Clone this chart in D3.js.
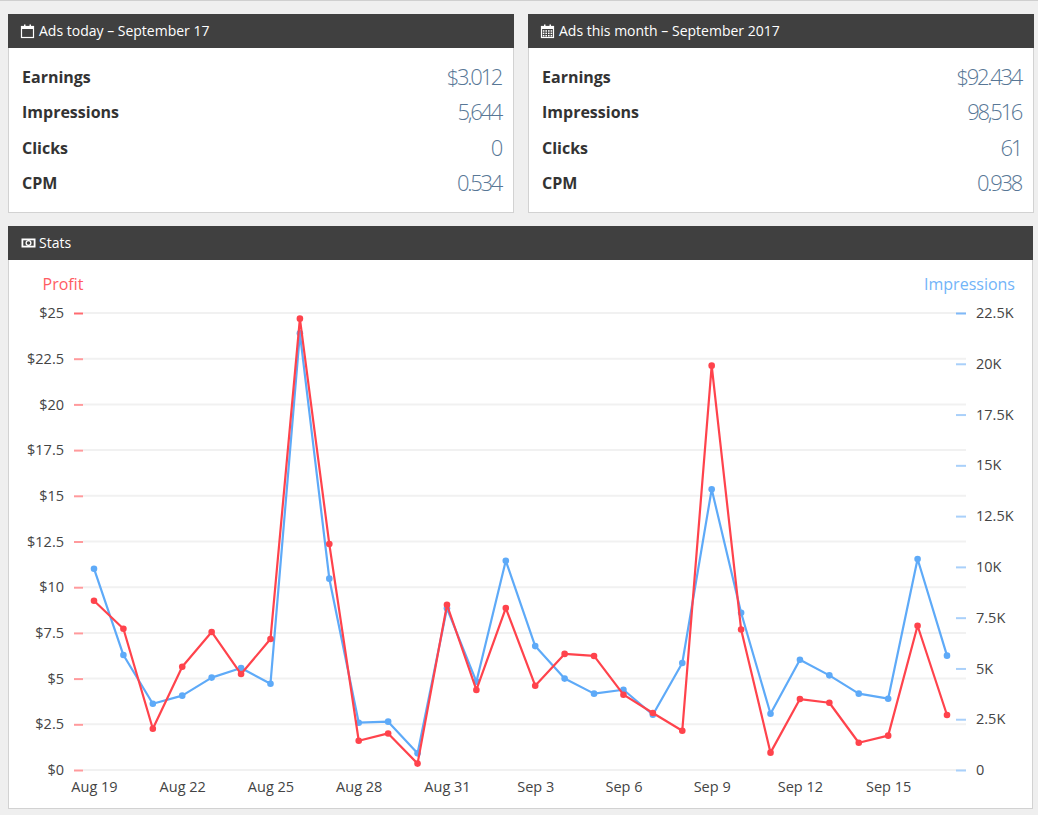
<!DOCTYPE html>
<html>
<head>
<meta charset="utf-8">
<script src="https://cdn.jsdelivr.net/npm/d3@7"></script>
<style>
  html, body { margin: 0; padding: 0; background: #efefef; }
  svg { display: block; font-family: "Open Sans", sans-serif; }
</style>
</head>
<body>
<div id="page"></div>
<script>
// days on the x axis
const days = ["Aug 19","Aug 20","Aug 21","Aug 22","Aug 23","Aug 24","Aug 25","Aug 26","Aug 27","Aug 28",
  "Aug 29","Aug 30","Aug 31","Sep 1","Sep 2","Sep 3","Sep 4","Sep 5","Sep 6","Sep 7",
  "Sep 8","Sep 9","Sep 10","Sep 11","Sep 12","Sep 13","Sep 14","Sep 15","Sep 16","Sep 17"];

// profit in dollars per day
const profit = [9.26, 7.73, 2.26, 5.65, 7.55, 5.25, 7.17, 24.69, 12.36, 1.60,
  2.00, 0.35, 9.04, 4.38, 8.86, 4.61, 6.35, 6.24, 4.12, 3.12,
  2.15, 22.12, 7.69, 0.95, 3.88, 3.68, 1.49, 1.88, 7.89, 3.01];

// impressions per day
const impressions = [9910, 5660, 3260, 3660, 4550, 5020, 4250, 21500, 9420, 2330,
  2380, 820, 7960, 4350, 10300, 6100, 4500, 3760, 3950, 2720,
  5270, 13820, 7740, 2770, 5430, 4660, 3760, 3510, 10390, 5630];

const profitTicks = [0, 2.5, 5, 7.5, 10, 12.5, 15, 17.5, 20, 22.5, 25];
const impTicks = [0, 2500, 5000, 7500, 10000, 12500, 15000, 17500, 20000, 22500];

// summary panels
const todayTitle = "Ads today \u2013 September 17";
const monthTitle = "Ads this month \u2013 September 2017";
const rowLabels = ["Earnings", "Impressions", "Clicks", "CPM"];
const todayValues = ["$3.012", "5,644", "0", "0.534"];
const monthValues = ["$92.434", "98,516", "61", "0.938"];

const W = 1038, H = 815;
const red = "#ff434c", blue = "#5eaaf8";

const svg = d3.select("#page").append("svg")
  .attr("width", W).attr("height", H);

svg.append("line")
  .attr("x1", 0).attr("x2", W).attr("y1", 0.5).attr("y2", 0.5)
  .attr("stroke", "#cfcfcf");

function panel(x, y, w, h, title, icon) {
  const g = svg.append("g").attr("transform", `translate(${x},${y})`);
  g.append("rect")
    .attr("x", 0.5).attr("y", 0.5).attr("width", w - 1).attr("height", h - 1)
    .attr("fill", "white").attr("stroke", "#d2d2d2");
  g.append("rect")
    .attr("width", w).attr("height", 34).attr("fill", "#404040");
  g.append("text")
    .attr("x", 31).attr("y", 22)
    .text(title)
    .style("fill", "white")
    .style("font-size", "14px");
  icon(g.append("g").attr("transform", "translate(13,10)"));
  return g;
}

function calendarOutline(g) {
  g.append("rect").attr("x", 0.5).attr("y", 2.5).attr("width", 12).attr("height", 11)
    .attr("fill", "none").attr("stroke", "white").attr("stroke-width", 1.2);
  g.append("rect").attr("x", 0.5).attr("y", 2.5).attr("width", 12).attr("height", 2.5).attr("fill", "white");
  g.append("rect").attr("x", 3).attr("y", 0.5).attr("width", 1.5).attr("height", 3).attr("fill", "white");
  g.append("rect").attr("x", 8.5).attr("y", 0.5).attr("width", 1.5).attr("height", 3).attr("fill", "white");
}

function calendarFull(g) {
  calendarOutline(g);
  for (let r = 0; r < 3; r++) {
    for (let c = 0; c < 4; c++) {
      g.append("rect").attr("x", 1.8 + c * 2.6).attr("y", 6.2 + r * 2.4)
        .attr("width", 1.6).attr("height", 1.5).attr("fill", "white");
    }
  }
}

function money(g) {
  g.append("rect").attr("x", 0.5).attr("y", 2.5).attr("width", 14).attr("height", 9)
    .attr("fill", "white");
  g.append("rect").attr("x", 2.3).attr("y", 4.3).attr("width", 10.4).attr("height", 5.4)
    .attr("fill", "#404040");
  g.append("ellipse").attr("cx", 7.5).attr("cy", 7).attr("rx", 2.4).attr("ry", 2.4)
    .attr("fill", "none").attr("stroke", "white").attr("stroke-width", 1.3);
}

function summary(x, title, icon, values) {
  const g = panel(x, 14, 506, 199, title, icon);
  const rowY = d3.scalePoint().domain(rowLabels).range([69, 175]);
  g.selectAll("text.label")
    .data(rowLabels)
    .enter()
    .append("text")
    .attr("class", "label")
    .attr("x", 14)
    .attr("y", d => rowY(d))
    .text(d => d)
    .style("fill", "#333")
    .style("font-size", "16px")
    .style("font-weight", 700);
  g.selectAll("text.value")
    .data(values)
    .enter()
    .append("text")
    .attr("class", "value")
    .attr("x", 493)
    .attr("y", (d, i) => rowY(rowLabels[i]) + 2)
    .attr("text-anchor", "end")
    .text(d => d)
    .style("fill", "#587796")
    .style("font-size", "22px")
    .style("font-weight", 300)
    .style("letter-spacing", "-2.3px");
}

summary(8, todayTitle, calendarOutline, todayValues);
summary(528, monthTitle, calendarFull, monthValues);

// stats panel
panel(8, 226, 1025, 583, "Stats", money);

const x = d3.scalePoint().domain(days).range([94, 947]);
const yL = d3.scaleLinear().domain([0, 25]).range([770, 313]);
const yR = d3.scaleLinear().domain([0, 22500]).range([770, 313]);

// gridlines
svg.append("g")
  .selectAll("line")
  .data(profitTicks)
  .enter()
  .append("line")
  .attr("x1", 83).attr("x2", 966)
  .attr("y1", d => yL(d)).attr("y2", d => yL(d))
  .attr("stroke", "#f1f1f1")
  .attr("stroke-width", 2);

// left axis
const axL = svg.append("g")
  .attr("transform", "translate(83,0)")
  .call(d3.axisLeft(yL).tickValues(profitTicks).tickSize(9).tickPadding(10)
    .tickFormat(d => "$" + d));
axL.select(".domain").remove();
axL.selectAll("line").attr("stroke", "#ff9a9c").attr("stroke-width", 2);
axL.selectAll("text").style("fill", "#444").style("font-size", "14.5px")
  .style("font-family", "Open Sans, sans-serif");
axL.selectAll(".tick").filter(d => d === 25).select("line").attr("stroke", "#ff6b70");

// right axis
const axR = svg.append("g")
  .attr("transform", "translate(956,0)")
  .call(d3.axisRight(yR).tickValues(impTicks).tickSize(10).tickPadding(10)
    .tickFormat(d => d === 0 ? "0" : (d / 1000) + "K"));
axR.select(".domain").remove();
axR.selectAll("line").attr("stroke", "#a9d0fa").attr("stroke-width", 2);
axR.selectAll("text").style("fill", "#444").style("font-size", "14.5px")
  .style("font-family", "Open Sans, sans-serif");
axR.selectAll(".tick").filter(d => d === 22500).select("line").attr("stroke", "#7fb9f8");

// x axis
const axX = svg.append("g")
  .attr("transform", "translate(0,770)")
  .call(d3.axisBottom(x).tickValues(days.filter((d, i) => i % 3 === 0)).tickSize(0).tickPadding(12));
axX.select(".domain").remove();
axX.selectAll("text").style("fill", "#444").style("font-size", "14.5px")
  .style("font-family", "Open Sans, sans-serif");

// axis titles
svg.append("text")
  .attr("x", 63).attr("y", 290)
  .attr("text-anchor", "middle")
  .text("Profit")
  .style("fill", "#ff5c62")
  .style("font-size", "16px");
svg.append("text")
  .attr("x", 1015).attr("y", 290)
  .attr("text-anchor", "end")
  .text("Impressions")
  .style("fill", "#72b4f8")
  .style("font-size", "16px");

// series
const series = [
  { values: impressions, y: yR, color: blue },
  { values: profit, y: yL, color: red }
];

series.forEach(s => {
  const line = d3.line()
    .x((d, i) => x(days[i]))
    .y(d => s.y(d));
  svg.append("path")
    .datum(s.values)
    .attr("d", line)
    .attr("fill", "none")
    .attr("stroke", s.color)
    .attr("stroke-width", 2.2)
    .attr("stroke-linejoin", "round");
  svg.append("g")
    .selectAll("circle")
    .data(s.values)
    .enter()
    .append("circle")
    .attr("cx", (d, i) => x(days[i]))
    .attr("cy", d => s.y(d))
    .attr("r", 3.3)
    .attr("fill", s.color);
});
</script>
</body>
</html>
